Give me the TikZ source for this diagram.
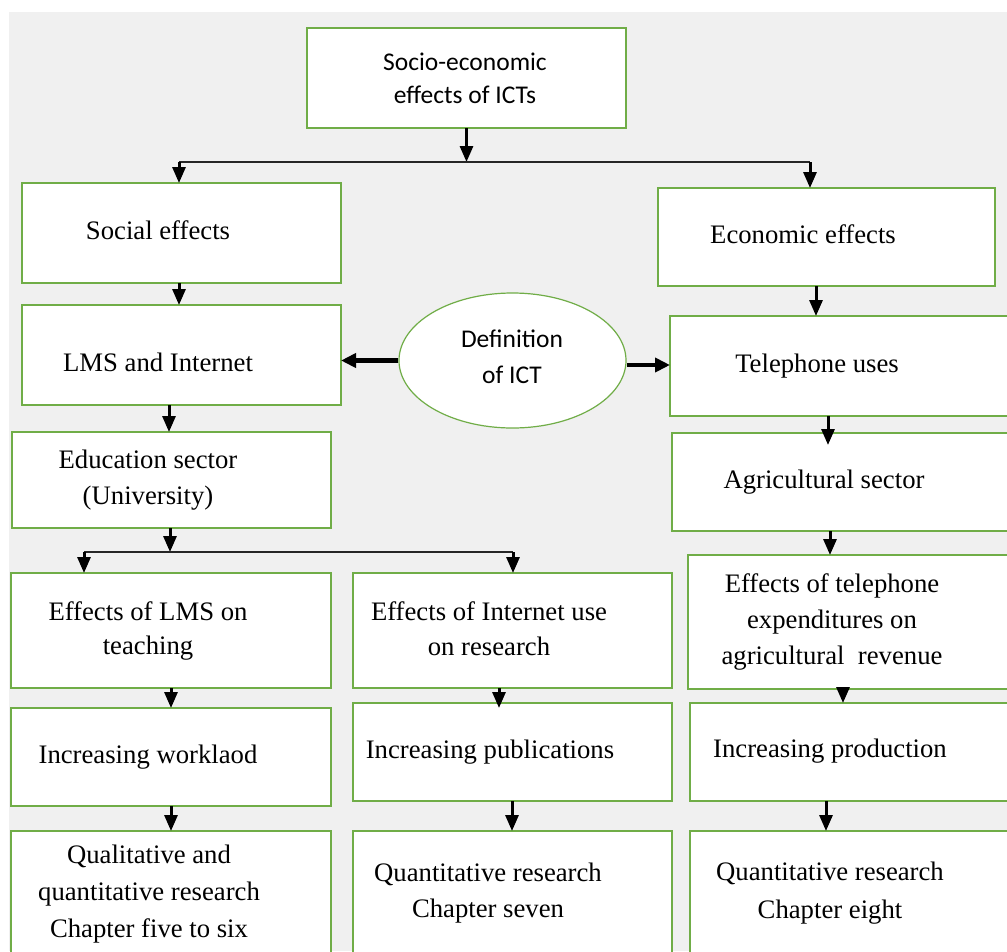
\documentclass[tikz,border=0pt]{standalone}
\usepackage{fontspec}
\setmainfont{Liberation Serif}
\newfontfamily\calfont{Carlito}
\usetikzlibrary{arrows.meta,shapes.geometric}
\definecolor{boxgreen}{RGB}{112,173,71}
\definecolor{panel}{RGB}{240,240,240}

% box from corner (x1,y1) to corner (x2,y2)
\newcommand\flowbox[5]{%
  \node[box, minimum width={#4-#2}, minimum height={#5-#3}] (#1) at ({(#2+#4)/2},{(#3+#5)/2}) {};}
% vertical arrow in column #2 from the bottom of #3 to the top of #4
\newcommand\flowdown[4][]{%
  \draw[arrow,#1] (#2 |- #3.south) -- (#2 |- #4.north);}

\begin{document}
\begin{tikzpicture}[x=1pt,y=-1pt,
  box/.style={draw=boxgreen, line width=1.5pt, fill=white, inner sep=0pt, outer sep=0pt},
  lbl/.style={font=\fontsize{26.7}{36}\selectfont, align=center, inner sep=0pt, anchor=base},
  sanslbl/.style={font=\calfont\fontsize{25.5}{33}\selectfont, align=center, inner sep=0pt, anchor=base},
  arrow/.style={line width=3pt, -{Triangle[width=13pt,length=16pt]}},
  harrow/.style={line width=4.5pt, -{Triangle[width=14pt,length=15pt]}},
  bus/.style={line width=2.5pt, draw=black!85}]

% page and panel
\fill[white] (0,0) rectangle (1007,951);
\fill[panel] (9,12) rectangle (1007,951);
\useasboundingbox (0,0) rectangle (1007,951);

% boxes
\flowbox{top}{307}{28}{626}{128}
\flowbox{social}{22}{183}{341}{283}
\flowbox{econ}{658}{188}{995}{286}
\flowbox{lms}{22}{305}{341}{405}
\flowbox{tel}{670}{316}{1020}{416}
\flowbox{edu}{12}{432}{331}{528}
\flowbox{agri}{672}{433}{1020}{531}
\flowbox{lmsteach}{11}{573}{331}{688}
\flowbox{internet}{353}{573}{672}{688}
\flowbox{telexp}{688}{555}{1020}{689}
\flowbox{workload}{11}{708}{331}{806}
\flowbox{pubs}{353}{703}{672}{801}
\flowbox{prod}{690}{703}{1020}{801}
\flowbox{qual}{11}{831}{331}{965}
\flowbox{quantA}{353}{831}{672}{965}
\flowbox{quantB}{690}{831}{1020}{965}
\node[draw=boxgreen, line width=1.2pt, fill=white, ellipse, inner sep=0pt,
      minimum width=227pt, minimum height=135pt] (defn) at (512.5,360.5) {};

% labels (a multi-line label is placed by the baseline of its last line)
\node[sanslbl] (tTop) at (465,103) {Socio-economic\\effects of ICTs};
\node[lbl] (tSoc) at (158,239) {Social effects};
\node[lbl] (tEco) at (803,243) {Economic effects};
\node[lbl] (tLms) at (158,371) {LMS and Internet};
\node[sanslbl, font=\calfont\fontsize{25.5}{36}\selectfont] (tDef) at (512,383) {Definition\\of ICT};
\node[lbl] (tTel) at (817,372) {Telephone uses};
\node[lbl] (tEdu) at (148,504) {Education sector\\(University)};
\node[lbl] (tAgr) at (824,488) {Agricultural sector};
\node[lbl, font=\fontsize{26.7}{34}\selectfont] (tLmsT) at (148,654) {Effects of LMS on\\teaching};
\node[lbl, font=\fontsize{26.7}{35}\selectfont] (tInt) at (489,655) {Effects of Internet use\\on research};
\node[lbl] (tTelE) at (832,664) {Effects of telephone\\expenditures on\\agricultural~ revenue};
\node[lbl] (tWork) at (148,763) {Increasing worklaod};
\node[lbl] (tPub) at (490,758) {Increasing publications};
\node[lbl] (tProd) at (830,757) {Increasing production};
\node[lbl, font=\fontsize{26.7}{37}\selectfont] (tQual) at (149,937) {Qualitative and\\quantitative research\\Chapter five to six};
\node[lbl] (tQA) at (488,917) {Quantitative research\\Chapter seven};
\node[lbl, font=\fontsize{26.7}{38}\selectfont] (tQB) at (830,918) {Quantitative research\\Chapter eight};

% arrow columns and bus ends
\coordinate (busL) at (179,162);
\coordinate (busR) at (810,162);
\coordinate (colB) at (816,0);
\coordinate (colC) at (169,0);
\coordinate (colD) at (828,0);
\coordinate (colE) at (170,552);
\coordinate (busL2) at (84,552);
\coordinate (busR2) at (513,552);
\coordinate (colF) at (830,0);
\coordinate (colG) at (171,0);
\coordinate (colH) at (499,0);
\coordinate (colI) at (843,0);
\coordinate (colJ) at (512,0);
\coordinate (colK) at (826,0);
\coordinate (rowR) at (0,365);

% connectors
\draw[arrow] (top.south) -- (top.south |- busL);
\draw[bus] (busL) -- (busR);
\draw[arrow] (busL) -- (busL |- social.north);
\draw[arrow] (busR) -- (busR |- econ.north);
\flowdown{busL}{social}{lms}
\flowdown{colB}{econ}{tel}
\flowdown{colC}{lms}{edu}
\flowdown[shorten >=-12pt]{colD}{tel}{agri}
\draw[arrow] (colE |- edu.south) -- (colE);
\draw[bus] (busL2) -- (busR2);
\draw[arrow] (busL2) -- (busL2 |- lmsteach.north);
\draw[arrow] (busR2) -- (busR2 |- internet.north);
\flowdown{colF}{agri}{telexp}
\flowdown{colG}{lmsteach}{workload}
\flowdown[shorten >=-5pt]{colH}{internet}{pubs}
\flowdown{colI}{telexp}{prod}
\flowdown{colG}{workload}{qual}
\flowdown{colJ}{pubs}{quantA}
\flowdown{colK}{prod}{quantB}
\draw[harrow] (defn.west) -- (defn.west -| lms.east);
\draw[harrow] (defn.east |- rowR) -- (tel.west |- rowR);
\end{tikzpicture}
\end{document}
